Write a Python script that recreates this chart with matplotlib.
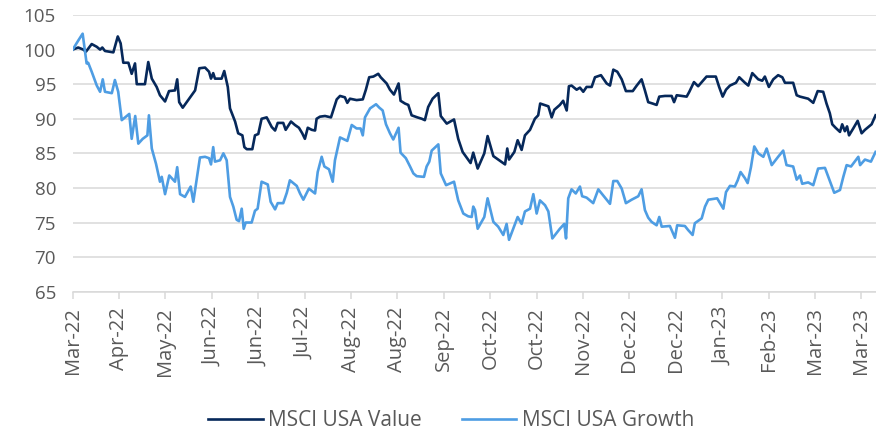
import matplotlib
matplotlib.use("Agg")
import matplotlib.pyplot as plt
import matplotlib.dates as mdates
import numpy as np
import pandas as pd

start_date = "2022-03-30"
tick_step_days = 21
tick_labels = ["Mar-22", "Apr-22", "May-22", "Jun-22", "Jun-22", "Jul-22", "Aug-22", "Aug-22",
               "Sep-22", "Oct-22", "Oct-22", "Nov-22", "Dec-22", "Dec-22", "Jan-23", "Feb-23",
               "Mar-23", "Mar-23"]

value_days = [0, 2.5, 4.8, 6.0, 8.6, 10.9, 12.4, 13.4, 14.6, 18.4, 20.4, 21.7, 22.9, 25.2, 26.7, 28.2, 29.0,
              32.7, 34.2, 35.8, 38.0, 39.5, 41.8, 43.6, 46.3, 47.3, 48.2, 49.8, 51.6, 53.9, 55.4, 57.3,
              59.9, 61.7, 62.6, 63.6, 64.4, 67.4, 68.6, 70.2, 71.2, 73.5, 74.9, 76.8, 77.7, 78.8, 81.3,
              82.5, 84.0, 85.5, 87.8, 90.1, 91.6, 92.8, 95.3, 96.4, 98.8, 100.6, 102.4, 103.9, 105.1,
              106.4, 108.2, 109.7, 110.4, 111.9, 114.2, 116.9, 117.9, 119.5, 121.0, 123.2, 124.3, 125.5,
              128.5, 131.3, 132.7, 134.2, 136.1, 138.3, 139.4, 142.1, 143.6, 145.4, 147.5, 148.4, 150.4,
              151.9, 153.4, 156.0, 158.0, 159.4, 160.9, 162.9, 165.5, 166.6, 169.3, 172.6, 174.5, 176.5,
              178.3, 180.1, 181.3, 183.3, 186.3, 187.8, 190.4, 192.6, 195.7, 196.7, 197.5, 199.9, 201.4,
              203.2, 204.7, 207.0, 209.2, 210.7, 211.6, 215.3, 216.8, 218.0, 220.5, 222.0, 223.6, 224.6,
              225.8, 228.1, 229.6, 231.1, 232.6, 234.9, 236.4, 239.1, 241.7, 243.2, 244.7, 246.5, 248.5,
              250.4, 253.5, 255.3, 257.5, 259.0, 260.5, 262.5, 264.3, 265.5, 268.1, 271.1, 272.2, 273.4,
              277.9, 279.1, 281.2, 283.1, 286.9, 289.2, 291.1, 292.6, 294.2, 295.7, 297.5, 300.2, 301.7,
              304.3, 305.8, 307.6, 310.3, 312.1, 313.3, 315.1, 317.1, 319.3, 321.2, 322.4, 326.1, 327.7,
              329.2, 332.9, 335.2, 337.2, 339.7, 341.2, 342.7, 343.8, 345.3, 347.3, 348.3, 349.5, 350.5,
              351.4, 353.3, 355.3, 357.1, 358.6, 361.6, 363.4]
value_idx = [100, 100.3, 100, 99.7, 100.8, 100.4, 100, 100.3, 99.8, 99.6, 101.9, 100.9, 98.1, 98.1, 96.5, 98, 95,
             95, 98.2, 95.8, 94.6, 93.4, 92.5, 94, 94.1, 95.7, 92.4, 91.6, 92.4, 93.4, 94.1, 97.3,
             97.4, 96.8, 95.8, 96.6, 95.8, 95.8, 96.9, 94.6, 91.5, 89.6, 87.9, 87.6, 85.9, 85.6, 85.6,
             87.6, 87.8, 90, 90.2, 88.8, 88.3, 89.4, 89.4, 88.4, 89.6, 89.1, 88.7, 87.9, 87.1,
             88.7, 88.4, 88.3, 90, 90.3, 90.4, 90.2, 91.2, 92.8, 93.3, 93.1, 92.3, 92.9,
             92.7, 92.8, 94.2, 96, 96.1, 96.5, 96, 95.1, 94.2, 93.5, 95.1, 92.6, 92.2,
             92, 90.5, 90.2, 90, 89.8, 91.7, 92.9, 93.7, 90.4, 89.3, 89.9, 87.1, 85.2,
             84.4, 83.6, 85.1, 82.8, 85, 87.5, 84.6, 84.1, 83.4, 85.7, 84.1, 85.2, 86.9,
             85.5, 87.6, 88.4, 90, 90.5, 92.2, 91.8, 90.2, 91.3, 92, 92.6, 91.2, 94.7,
             94.8, 94.2, 94.5, 93.9, 94.6, 94.6, 96, 96.3, 95.1, 94.8, 97.1, 96.8, 95.7,
             94, 94, 94.8, 95.7, 94.1, 92.4, 92.2, 92, 93.2, 93.3, 93.3, 92.4, 93.4,
             93.2, 93.9, 95.3, 94.7, 96.1, 96.1, 96.1, 94.6, 93.2, 94.2, 94.8, 95.2, 96,
             95.2, 94.8, 96.6, 95.7, 95.5, 96.1, 94.6, 95.7, 96.3, 96, 95.2, 95.2, 93.4,
             93.2, 92.9, 92.3, 94, 93.9, 92.2, 90.8, 89.2, 88.7, 88.1, 89.2, 88.2, 88.9,
             87.6, 88.6, 89.7, 87.9, 88.4, 89.2, 90.5]

growth_days = [0, 2.5, 4.5, 6.3, 7.0, 8.6, 10.9, 12.4, 13.6, 14.6, 17.7, 19.1, 20.6, 22.2, 23.7, 25.6, 26.7,
               28.3, 29.7, 31.7, 33.8, 34.5, 35.8, 37.7, 39.5, 40.3, 41.8, 43.7, 46.3, 47.3, 48.6, 50.8,
               53.4, 54.6, 57.6, 59.9, 61.7, 62.6, 63.6, 64.4, 66.7, 68.2, 69.7, 71.2, 72.7, 74.2, 75.3,
               76.5, 77.4, 78.3, 81.0, 82.5, 83.7, 85.5, 88.3, 89.6, 91.6, 92.8, 95.3, 96.9, 98.3, 101.4,
               102.9, 104.4, 106.9, 109.7, 110.9, 112.7, 113.9, 116.0, 117.7, 118.7, 121.0, 124.3, 126.3,
               128.5, 130.3, 131.3, 132.3, 134.6, 137.3, 138.8, 140.3, 141.8, 143.6, 145.1, 147.5, 148.4,
               150.8, 152.7, 154.2, 155.7, 159.0, 160.2, 161.4, 162.5, 165.5, 166.6, 169.0, 172.6, 174.5,
               176.8, 179.0, 180.6, 181.3, 182.1, 183.3, 186.3, 187.8, 190.4, 192.6, 194.9, 196.4, 197.5,
               199.4, 201.4, 203.2, 204.7, 207.0, 208.5, 210.0, 211.5, 213.8, 215.3, 217.1, 220.5, 222.5,
               223.3, 224.3, 225.8, 227.7, 229.6, 230.6, 232.6, 235.6, 237.9, 243.2, 244.7, 246.5, 248.5,
               250.4, 253.0, 256.0, 257.5, 259.0, 260.5, 262.0, 264.3, 265.5, 266.6, 270.3, 272.6, 273.6,
               277.1, 278.6, 280.6, 281.6, 284.7, 286.2, 287.7, 291.7, 294.5, 295.7, 297.5, 299.7, 301.0,
               302.3, 304.3, 305.5, 307.0, 308.5, 310.3, 312.6, 314.1, 316.4, 319.3, 321.6, 323.1, 326.1,
               327.7, 329.2, 330.2, 332.9, 335.2, 337.4, 340.5, 342.0, 344.7, 347.3, 348.8, 350.3, 352.3,
               355.6, 356.4, 358.6, 361.3, 363.4]
growth_idx = [100, 101.3, 102.3, 98, 98.1, 96.8, 94.8, 93.9, 95.7, 93.9, 93.7, 95.6, 93.9, 89.8, 90.2, 90.7, 87.1,
              90.4, 86.4, 87.1, 87.6, 90.5, 85.7, 83.5, 80.9, 81.6, 79.1, 81.8, 80.9, 83, 79.1, 78.7,
              80.2, 78, 84.4, 84.5, 84.3, 83.4, 85.9, 83.8, 84, 85, 84, 78.7, 77.3, 75.4, 75.2,
              77, 74.1, 75, 75, 76.7, 77, 80.9, 80.5, 78, 76.9, 77.8, 77.8, 79.3, 81.1, 80.3,
              79.2, 78.3, 79.9, 79.2, 82.3, 84.5, 83.1, 82.7, 80.9, 84, 87.3, 86.8, 89.1,
              88.6, 88.6, 87.6, 90.2, 91.5, 92.1, 91.6, 91.2, 89.2, 87.9, 87, 88.7, 85.1,
              84.3, 83.1, 82.1, 81.7, 81.6, 83.1, 83.8, 85.4, 86.3, 82.1, 80.4, 80.9, 78.2,
              76.3, 75.9, 75.8, 77.3, 76.8, 74.1, 75.8, 78.5, 75.1, 74.4, 73.2, 74.8, 72.5,
              74.1, 75.8, 74.8, 76.6, 77, 79.1, 76.3, 78.2, 77.5, 76.6, 72.7, 74.1, 74.8,
              72.7, 78.5, 79.8, 79.2, 80.2, 78.8, 78.6, 77.8, 79.8, 77.7, 81, 81, 79.9,
              77.8, 78.3, 78.8, 79.8, 76.8, 75.7, 75.1, 74.6, 75.8, 74.4, 74.5, 72.8, 74.6,
              74.5, 73.9, 73.2, 74.9, 75.6, 77.3, 78.3, 78.5, 77, 79.4, 80.3, 80.2, 81.1,
              82.3, 81.4, 80.7, 83, 86, 85, 84.5, 85.7, 83.3, 84.5, 85.4, 83.3, 83.1,
              81.2, 81.8, 80.6, 80.8, 80.4, 82.8, 82.9, 81.6, 79.3, 79.7, 81.6, 83.3, 83.1,
              84.5, 83.3, 84.1, 83.8, 85.2]

series_names = ["MSCI USA Value", "MSCI USA Growth"]
colors = ["#06285A", "#4E9DE3"]

plt.rcParams['font.family'] = ['Open Sans', 'DejaVu Sans']

t0 = mdates.date2num(pd.Timestamp(start_date))
vx = t0 + np.array(value_days)
gx = t0 + np.array(growth_days)

fig = plt.figure(figsize=(8.76, 4.36), dpi=100)
ax = fig.add_axes([72.7 / 876, (436 - 291.7) / 436, (876 - 72.7) / 876, (291.7 - 15) / 436])

ax.plot(vx, value_idx, color=colors[0], lw=1.9, label=series_names[0], solid_joinstyle='round')
ax.plot(gx, growth_idx, color=colors[1], lw=1.9, label=series_names[1], solid_joinstyle='round')

ax.set_ylim(65, 105)
ax.set_yticks(np.arange(65, 106, 5))
ax.set_xlim(t0, t0 + 363.6)
ticks = t0 + np.arange(len(tick_labels)) * tick_step_days
ax.set_xticks(ticks)
ax.set_xticklabels(tick_labels, rotation=90)

ax.grid(axis='y', color='#D9D9D9', lw=1.1)
ax.set_axisbelow(True)
for s in ['top', 'right', 'left']:
    ax.spines[s].set_visible(False)
ax.spines['bottom'].set_color('#D9D9D9')
ax.spines['bottom'].set_linewidth(1.1)

ax.tick_params(axis='y', length=0, pad=12, labelsize=13.5, labelcolor='#595959')
ax.tick_params(axis='x', length=5, width=1.1, color='#D9D9D9', pad=6, labelsize=14.5, labelcolor='#595959')

fig.legend(loc='center', bbox_to_anchor=(0.515, 0.035), ncol=2, frameon=False,
           fontsize=15, handlelength=2.6, handletextpad=0.25, columnspacing=1.95,
           labelcolor='#595959')

fig.savefig("out.png", dpi=100)
